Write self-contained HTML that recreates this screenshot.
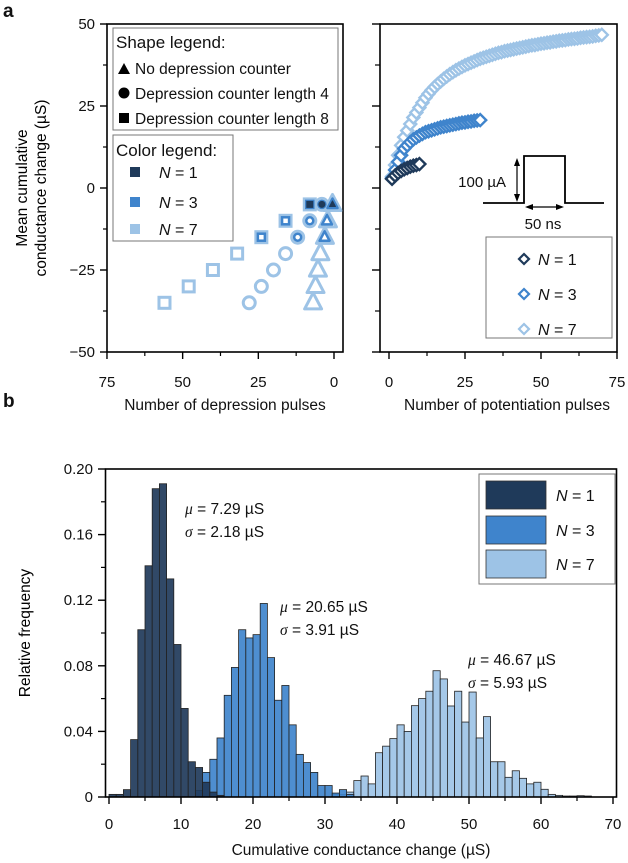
<!DOCTYPE html>
<html><head><meta charset="utf-8"><style>
body{margin:0;background:#fff}
svg{display:block;font-family:"Liberation Sans",sans-serif}
</style></head><body>
<svg id="fig" width="628" height="863" viewBox="0 0 628 863" xmlns="http://www.w3.org/2000/svg">
<g id="g"></g>
</svg>
<script>
// ---- Panel a data ----
const depPulsesSq7=[8,16,24,32,40,48,56];
const depValsSq7=[-5,-10,-15,-20,-25,-30,-35];
const depPulsesSq3=[8,16,24];
const depValsSq3=[-5,-10,-15];
const depPulsesSq1=[8];
const depValsSq1=[-5];
const depPulsesCi7=[4,8,12,16,20,24,28];
const depValsCi7=[-5,-10,-15,-20,-25,-30,-35];
const depPulsesCi3=[4,8,12];
const depValsCi3=[-5,-10,-15];
const depPulsesCi1=[4];
const depValsCi1=[-5];
const depPulsesTr7=[0.5,2,3,4.5,5.3,6.1,6.9];
const depValsTr7=[-5,-10,-15,-20,-25,-30,-35];
const depPulsesTr3=[0.5,2.3,3.1];
const depValsTr3=[-5,-10,-15];
const depPulsesTr1=[0.5];
const depValsTr1=[-5];
const potN7=[3.5,7,10,13,15.5,17.5,19.5,21.5,23,24.5,26,27.5,28.7,29.8,30.8,31.7,32.5,33.3,34,34.7,35.3,35.9,36.4,36.9,37.4,37.8,38.2,38.6,39,39.4,39.7,40,40.3,40.6,40.9,41.2,41.4,41.7,41.9,42.1,42.3,42.5,42.7,42.9,43.1,43.3,43.5,43.6,43.8,44,44.1,44.3,44.4,44.6,44.7,44.9,45,45.1,45.3,45.4,45.5,45.6,45.8,45.9,46,46.1,46.2,46.4,46.5,46.7];
const potN3=[3,5.5,8,10,12,13,14,14.8,15.4,16,16.5,17,17.3,17.6,17.9,18.2,18.5,18.7,18.9,19.1,19.3,19.5,19.7,19.9,20,20.2,20.3,20.5,20.6,20.7];
const potN1=[2.8,3.8,4.6,5.2,5.7,6.1,6.5,6.8,7.0,7.3];
const aYTicks=[-50,-25,0,25,50];
const aXTicks=[0,25,50,75];
// ---- Panel b data ----
const binStart=0;
const histN1=[0.0016,0.0016,0.0045,0.035,0.102,0.141,0.188,0.191,0.133,0.093,0.054,0.0215,0.018,0.009,0.003,0.001];
const histN3Start=12;
const histN3=[0.004,0.015,0.023,0.036,0.062,0.079,0.102,0.097,0.099,0.118,0.085,0.059,0.068,0.044,0.026,0.021,0.015,0.007,0.007,0.0024,0.0045,0.0016];
const histN7Start=31;
const histN7=[0.0016,0.0016,0.003,0.010,0.0128,0.008,0.027,0.031,0.0356,0.044,0.040,0.0557,0.060,0.0645,0.077,0.072,0.0555,0.0645,0.0457,0.064,0.036,0.049,0.0215,0.0215,0.012,0.016,0.0114,0.008,0.009,0.0047,0.0016,0.001,0.0006,0.0006,0.0008,0.0006];
const bYTicks=[0,0.04,0.08,0.12,0.16,0.20];
const bYLabels=["0","0.04","0.08","0.12","0.16","0.20"];
const bXTicks=[0,10,20,30,40,50,60,70];

const C1="#1f3a5a",C3="#3f84cc",C7="#9dc3e6";
const NS="http://www.w3.org/2000/svg";
const G=document.getElementById('g');
function mk(tag,attrs,parent){const e=document.createElementNS(NS,tag);for(const k in attrs)e.setAttribute(k,attrs[k]);(parent||G).appendChild(e);return e;}
function txt(x,y,s,size,anchor,parent){const t=mk('text',{x:x,y:y,'font-size':size,'text-anchor':anchor||'middle',fill:'#111'},parent);t.innerHTML=s;return t;}

const ayL=v=>188-v*3.28;
const axL=v=>334-v*3.027;
const axR=v=>389+v*3.04;
const byS=v=>797-v*1640;
const bxS=v=>109+v*7.2;

let t;
t=txt(3,17,'a',19,'start');t.setAttribute('font-weight','bold');

t=txt(3,407,'b',19,'start');t.setAttribute('font-weight','bold');


const lp=mk('g',{});

mk('rect',{x:107,y:24,width:236,height:328,fill:'none',stroke:'#000','stroke-width':1.6},lp);
for(const v of aYTicks){mk('line',{x1:100,x2:107,y1:ayL(v),y2:ayL(v),stroke:'#000','stroke-width':1.4},lp);
 t=txt(95,ayL(v)+5,v<0?'\u2212'+(-v):String(v),15,'end',lp);
 }
for(let v=-37.5;v<=37.5;v+=25)mk('line',{x1:103,x2:107,y1:ayL(v),y2:ayL(v),stroke:'#000','stroke-width':1.2},lp);
for(const v of aXTicks){mk('line',{x1:axL(v),x2:axL(v),y1:352,y2:359,stroke:'#000','stroke-width':1.4},lp);
 t=txt(axL(v),387,String(v),15,'middle',lp);}
for(let v=12.5;v<75;v+=25)mk('line',{x1:axL(v),x2:axL(v),y1:352,y2:356,stroke:'#000','stroke-width':1.2},lp);
t=txt(225,410,'Number of depression pulses',15.5);
t=mk('text',{x:0,y:0,'font-size':15.5,'text-anchor':'middle',transform:'translate(27,188) rotate(-90)'});t.textContent='Mean cumulative';

t=mk('text',{x:0,y:0,'font-size':15.5,'text-anchor':'middle',transform:'translate(46,188) rotate(-90)'});t.textContent='conductance change (\u00b5S)';


function square(x,y,s,col,sw,fill){return mk('rect',{x:x-s/2,y:y-s/2,width:s,height:s,fill:fill||'none',stroke:col,'stroke-width':sw});}
function circle(x,y,r,col,sw,fill){return mk('circle',{cx:x,cy:y,r:r,fill:fill||'none',stroke:col,'stroke-width':sw});}
function tri(x,y,s,col,sw,fill){const h=s*0.9;return mk('polygon',{points:`${x},${y-h*0.65} ${x-s/2},${y+h*0.4} ${x+s/2},${y+h*0.4}`,fill:fill||'none',stroke:col,'stroke-width':sw,'stroke-linejoin':'round'});}
function series(px,vals,fn,size,col,sw,fill,name){
 for(let i=0;i<px.length;i++){const e=fn(axL(px[i]),ayL(vals[i]),size,col,sw,fill);
  
  }
}
series(depPulsesSq7,depValsSq7,square,11,C7,3,'none','square-n7');
series(depPulsesCi7,depValsCi7,(x,y,s,c,w,f)=>circle(x,y,s/2,c,w,f),12,C7,3,'none','circle-n7');
series(depPulsesTr7,depValsTr7,tri,17,C7,3,'none','triangle-n7');
series(depPulsesSq3,depValsSq3,square,7,C3,2.5,'#fff','square-n3');
series(depPulsesCi3,depValsCi3,(x,y,s,c,w,f)=>circle(x,y,s/2,c,w,f),7,C3,2.5,'#fff','circle-n3');
series(depPulsesTr3,depValsTr3,tri,10,C3,2.5,'#fff','triangle-n3');
series(depPulsesSq1,depValsSq1,square,6,C1,1,C1,'square-n1');
series(depPulsesCi1,depValsCi1,(x,y,s,c,w,f)=>circle(x,y,s/2,c,w,f),6,C1,1,C1,'circle-n1');
series(depPulsesTr1,depValsTr1,tri,6,C1,1,C1,'triangle-n1');

const sl=mk('g',{});
mk('rect',{x:113,y:28,width:225,height:102,fill:'#fff',stroke:'#777','stroke-width':1},sl);
txt(116,48,'Shape legend:',17,'start',sl);
mk('polygon',{points:'118,74 124,63 130,74',fill:'#000'},sl);txt(135,74,'No depression counter',15.5,'start',sl);
mk('circle',{cx:124,cy:93,r:5.5,fill:'#000'},sl);txt(135,99,'Depression counter length 4',15.5,'start',sl);
mk('rect',{x:119,y:113,width:10,height:10,fill:'#000'},sl);txt(135,124,'Depression counter length 8',15.5,'start',sl);
const cl=mk('g',{});
mk('rect',{x:113,y:135,width:120,height:106,fill:'#fff',stroke:'#777','stroke-width':1},cl);
txt(116,156,'Color legend:',17,'start',cl);
[[C1,'1',172],[C3,'3',202],[C7,'7',229]].forEach(r=>{mk('rect',{x:130,y:r[2]-5,width:10,height:10,fill:r[0]},cl);
 txt(159,r[2]+6,'<tspan font-style="italic">N</tspan> = '+r[1],16,'start',cl);});

const rp=mk('g',{});
mk('rect',{x:380,y:24,width:237,height:328,fill:'none',stroke:'#000','stroke-width':1.6},rp);
for(const v of aYTicks)mk('line',{x1:372,x2:380,y1:ayL(v),y2:ayL(v),stroke:'#000','stroke-width':1.4},rp);
for(let v=-37.5;v<=37.5;v+=25)mk('line',{x1:375,x2:380,y1:ayL(v),y2:ayL(v),stroke:'#000','stroke-width':1.2},rp);
for(const v of aXTicks){mk('line',{x1:axR(v),x2:axR(v),y1:352,y2:359,stroke:'#000','stroke-width':1.4},rp);
 t=txt(axR(v),387,String(v),15,'middle',rp);}
for(let v=12.5;v<75;v+=25)mk('line',{x1:axR(v),x2:axR(v),y1:352,y2:356,stroke:'#000','stroke-width':1.2},rp);
t=txt(507,410,'Number of potentiation pulses',15.5);
function diamond(x,y,s,col,sw){return mk('polygon',{points:`${x},${y-s} ${x+s},${y} ${x},${y+s} ${x-s},${y}`,fill:'#fff',stroke:col,'stroke-width':sw});}
[[potN7,C7,'diamond-n7'],[potN3,C3,'diamond-n3'],[potN1,C1,'diamond-n1']].forEach(s=>{
 s[0].forEach((v,i)=>{const e=diamond(axR(i+1),ayL(v),6,s[1],2.4);
  
  });});
const ins=mk('g',{});
mk('polyline',{points:'483,203 524,203 524,156 565,156 565,203 604,203',fill:'none',stroke:'#000','stroke-width':1.8},ins);
mk('line',{x1:517,x2:517,y1:163,y2:196,stroke:'#000','stroke-width':1.2},ins);
mk('polygon',{points:'517,158 514,166 520,166',fill:'#000'},ins);mk('polygon',{points:'517,202 514,194 520,194',fill:'#000'},ins);
txt(506,187,'100 \u00b5A',15,'end',ins);
mk('line',{x1:530,x2:559,y1:207,y2:207,stroke:'#000','stroke-width':1.2},ins);
mk('polygon',{points:'525,207 533,204 533,210',fill:'#000'},ins);mk('polygon',{points:'564,207 556,204 556,210',fill:'#000'},ins);
txt(543,229,'50 ns',15,'middle',ins);
const rl=mk('g',{});
mk('rect',{x:486,y:237,width:126,height:101,fill:'#fff',stroke:'#777','stroke-width':1},rl);
[[C1,'1',259],[C3,'3',294],[C7,'7',329]].forEach(r=>{mk('polygon',{points:`524,${r[2]-5} 529,${r[2]} 524,${r[2]+5} 519,${r[2]}`,fill:'#fff',stroke:r[0],'stroke-width':2.2},rl);
 txt(538,r[2]+6,'<tspan font-style="italic">N</tspan> = '+r[1],16,'start',rl);});

const bp=mk('g',{});
function bars(vals,start,col,name){vals.forEach((v,i)=>{const x0=bxS(start+i),x1=bxS(start+i+1);
 const e=mk('rect',{x:x0,y:byS(v),width:x1-x0,height:797-byS(v),fill:col,stroke:'#222','stroke-width':0.8,'fill-opacity':0.92},bp);
 
 });}
bars(histN7,histN7Start,C7,'bar-n7');
bars(histN3,histN3Start,C3,'bar-n3');
bars(histN1,binStart,C1,'bar-n1');
mk('rect',{x:105.5,y:469,width:511,height:328,fill:'none',stroke:'#000','stroke-width':1.6},bp);
bYTicks.forEach((v,i)=>{mk('line',{x1:98,x2:105.5,y1:byS(v),y2:byS(v),stroke:'#000','stroke-width':1.4},bp);
 t=txt(93,byS(v)+5,bYLabels[i],15,'end',bp);});
for(let v=0.02;v<0.2;v+=0.04)mk('line',{x1:101,x2:105.5,y1:byS(v),y2:byS(v),stroke:'#000','stroke-width':1.2},bp);
bXTicks.forEach(v=>{mk('line',{x1:bxS(v),x2:bxS(v),y1:797,y2:804,stroke:'#000','stroke-width':1.4},bp);
 t=txt(bxS(v),829,String(v),15,'middle',bp);});
for(let v=5;v<70;v+=10)mk('line',{x1:bxS(v),x2:bxS(v),y1:797,y2:801,stroke:'#000','stroke-width':1.2},bp);
t=txt(361,855,'Cumulative conductance change (\u00b5S)',15.5);
t=mk('text',{x:0,y:0,'font-size':15.5,'text-anchor':'middle',transform:'translate(30,633) rotate(-90)'});t.textContent='Relative frequency';

[[185,514,'7.29','2.18'],[280,612,'20.65','3.91'],[468,665,'46.67','5.93']].forEach(a=>{
 const g=mk('g',{},bp);
 txt(a[0],a[1],'<tspan font-family="Liberation Serif" font-style="italic">\u03bc</tspan> = '+a[2]+' \u00b5S',15.5,'start',g);
 txt(a[0],a[1]+23,'<tspan font-family="Liberation Serif" font-style="italic">\u03c3</tspan> = '+a[3]+' \u00b5S',15.5,'start',g);});
const hl=mk('g',{});
mk('rect',{x:479,y:474,width:136,height:110,fill:'#fff',stroke:'#777','stroke-width':1},hl);
[[C1,'1',481],[C3,'3',516],[C7,'7',550]].forEach(r=>{mk('rect',{x:486,y:r[2],width:60,height:28,fill:r[0],stroke:'#333','stroke-width':0.8},hl);
 txt(556,r[2]+20,'<tspan font-style="italic">N</tspan> = '+r[1],16,'start',hl);});
</script>
</body></html>
